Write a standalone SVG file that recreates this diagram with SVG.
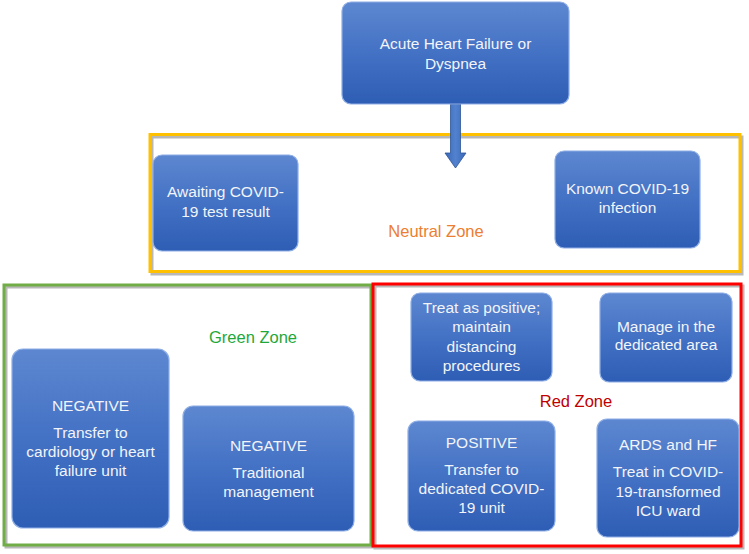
<svg xmlns="http://www.w3.org/2000/svg" width="749" height="554" viewBox="0 0 749 554">
<defs>
<linearGradient id="bg" x1="0" y1="0" x2="0" y2="1">
<stop offset="0" stop-color="#5D87D0"/>
<stop offset="0.5" stop-color="#4371C4"/>
<stop offset="1" stop-color="#2E5DB5"/>
</linearGradient>
<linearGradient id="ag" x1="0" y1="0" x2="1" y2="0">
<stop offset="0" stop-color="#3A66B8"/>
<stop offset="0.5" stop-color="#5282CF"/>
<stop offset="1" stop-color="#3A66B8"/>
</linearGradient>
</defs>
<style>
.box{fill:url(#bg);stroke:#8EAEE6;stroke-width:1.2}
.t{font-family:"Liberation Sans",Arial,sans-serif;font-size:15.5px;fill:#F2F4F8;text-anchor:middle}
.zone{fill:none;stroke-width:3}
.shadow{fill:none;stroke:#B8B8B8;stroke-width:3}
.zl{font-family:"Liberation Sans",Arial,sans-serif;font-size:16.5px;text-anchor:middle}
</style>
<rect width="749" height="554" fill="#FFFFFF"/>
<g id="zones">
<rect class="shadow" x="152" y="137" width="590" height="137"/>
<rect class="zone" x="150" y="134.5" width="590" height="137" stroke="#FFC000"/>
<rect class="shadow" x="6" y="287" width="367" height="260"/>
<rect class="zone" x="4" y="285" width="367" height="260" stroke="#70AD47"/>
<rect class="shadow" x="375" y="286" width="368" height="262"/>
<rect class="zone" x="373" y="284" width="368" height="262" stroke="#FF0000"/>
<text class="zl" x="436" y="237" fill="#ED7D31">Neutral Zone</text>
<text class="zl" x="253" y="343" fill="#1FA83A">Green Zone</text>
<text class="zl" x="576" y="407" fill="#C00000">Red Zone</text>
</g>
<g id="connectors">
<path d="M450.5,104 L460.5,104 L460.5,153 L466,153 L455.5,168 L445,153 L450.5,153 Z" fill="url(#ag)" stroke="#2F5597" stroke-width="0.8"/>
</g>
<g id="n-acute">
<rect class="box" x="342" y="2" width="227" height="102" rx="9"/>
<text class="t" x="455.5" y="49">Acute Heart Failure or</text>
<text class="t" x="455.5" y="69">Dyspnea</text>
</g>
<g id="n-awaiting">
<rect class="box" x="153" y="155" width="145" height="96" rx="9"/>
<text class="t" x="225.5" y="197">Awaiting COVID-</text>
<text class="t" x="225.5" y="217">19 test result</text>
</g>
<g id="n-known">
<rect class="box" x="555" y="151" width="145" height="97" rx="9"/>
<text class="t" x="627.5" y="194">Known COVID-19</text>
<text class="t" x="627.5" y="213">infection</text>
</g>
<g id="n-neg1">
<rect class="box" x="12" y="349" width="157" height="179" rx="11"/>
<text class="t" x="90.5" y="411">NEGATIVE</text>
<text class="t" x="90.5" y="438">Transfer to</text>
<text class="t" x="90.5" y="457">cardiology or heart</text>
<text class="t" x="90.5" y="476">failure unit</text>
</g>
<g id="n-neg2">
<rect class="box" x="183" y="406" width="171" height="125" rx="10"/>
<text class="t" x="268.5" y="451">NEGATIVE</text>
<text class="t" x="268.5" y="478">Traditional</text>
<text class="t" x="268.5" y="497">management</text>
</g>
<g id="n-treat">
<rect class="box" x="411" y="293" width="141" height="88" rx="9"/>
<text class="t" x="481.5" y="313">Treat as positive;</text>
<text class="t" x="481.5" y="332">maintain</text>
<text class="t" x="481.5" y="352">distancing</text>
<text class="t" x="481.5" y="371">procedures</text>
</g>
<g id="n-manage">
<rect class="box" x="600" y="293" width="132" height="89" rx="9"/>
<text class="t" x="666" y="332">Manage in the</text>
<text class="t" x="666" y="350">dedicated area</text>
</g>
<g id="n-positive">
<rect class="box" x="408" y="421" width="147" height="110" rx="10"/>
<text class="t" x="481.5" y="448">POSITIVE</text>
<text class="t" x="481.5" y="475">Transfer to</text>
<text class="t" x="481.5" y="494">dedicated COVID-</text>
<text class="t" x="481.5" y="513">19 unit</text>
</g>
<g id="n-ards">
<rect class="box" x="597" y="419" width="142" height="118" rx="10"/>
<text class="t" x="668" y="450">ARDS and HF</text>
<text class="t" x="668" y="477">Treat in COVID-</text>
<text class="t" x="668" y="497">19-transformed</text>
<text class="t" x="668" y="516">ICU ward</text>
</g>
</svg>
